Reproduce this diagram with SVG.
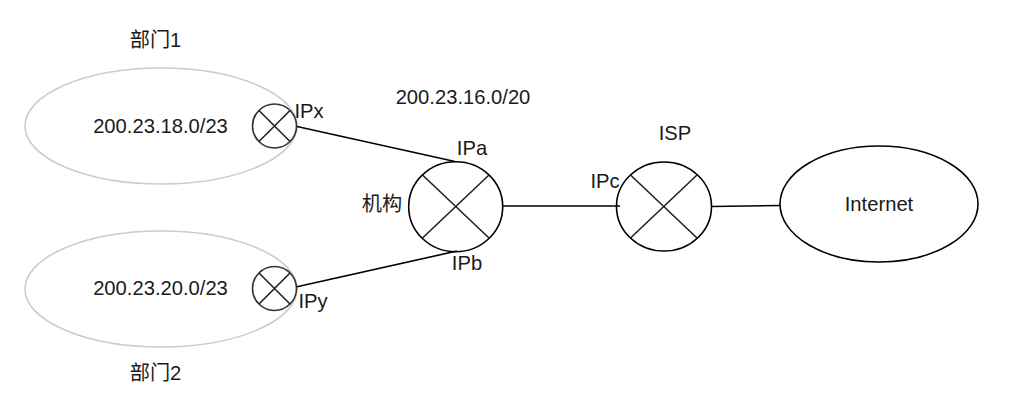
<svg xmlns="http://www.w3.org/2000/svg" width="1010" height="400" viewBox="0 0 1010 400">
<style>
text{font-family:"Liberation Sans","Noto Sans CJK SC",sans-serif;font-size:20.2px;fill:#1a1a1a;text-anchor:middle}
.g{fill:#fff;stroke:#ccc;stroke-width:1.6}
.n{fill:#fff;stroke:#000;stroke-width:1.6}
.s{fill:#fff;stroke:#333;stroke-width:1.6}
.c{fill:none;stroke:#000;stroke-width:1.6}
.x{fill:none;stroke:#222;stroke-width:1.6}
</style>
<rect width="1010" height="400" fill="#fff"/>
<g id="dept1"><ellipse class="g" cx="161" cy="126" rx="136" ry="58"/><text x="160.500" y="133">200.23.18.0/23</text><text x="155.500" y="47">部门1</text></g>
<g id="dept2"><ellipse class="g" cx="161" cy="289" rx="136" ry="58"/><text x="160.500" y="295">200.23.20.0/23</text><text x="155.500" y="380">部门2</text></g>
<g id="routerX"><ellipse class="s" cx="274.500" cy="126" rx="22" ry="22"/><path class="x" d="M259 110.500L290 141.500M259 141.500L290 110.500"/><text x="309" y="118">IPx</text></g>
<g id="routerY"><ellipse class="s" cx="274.500" cy="288.500" rx="22" ry="22"/><path class="x" d="M259 273L290 304M259 304L290 273"/><text x="313" y="308">IPy</text></g>
<g id="org"><ellipse class="n" cx="455.700" cy="206.700" rx="47" ry="45"/><path class="x" d="M422.500 175L489 238M422.500 238L489 175"/><text x="472" y="155">IPa</text><text x="467" y="270">IPb</text><text x="382" y="211">机构</text><text x="463" y="104">200.23.16.0/20</text></g>
<g id="isp"><ellipse class="n" cx="664" cy="206.500" rx="47.500" ry="44.500"/><path class="x" d="M630.500 175L697 238M630.500 238L697 175"/><text x="675" y="140">ISP</text><text x="605" y="188">IPc</text></g>
<g id="internet"><ellipse class="n" cx="879" cy="204" rx="99" ry="58"/><text x="879" y="211">Internet</text></g>
<g id="connectors">
<path class="c" d="M297 126.500L455 161.500"/>
<path class="c" d="M297 286.700L457 251"/>
<path class="c" d="M503 206H620"/>
<path class="c" d="M711 206.500L780 205.500"/>
</g>
</svg>
